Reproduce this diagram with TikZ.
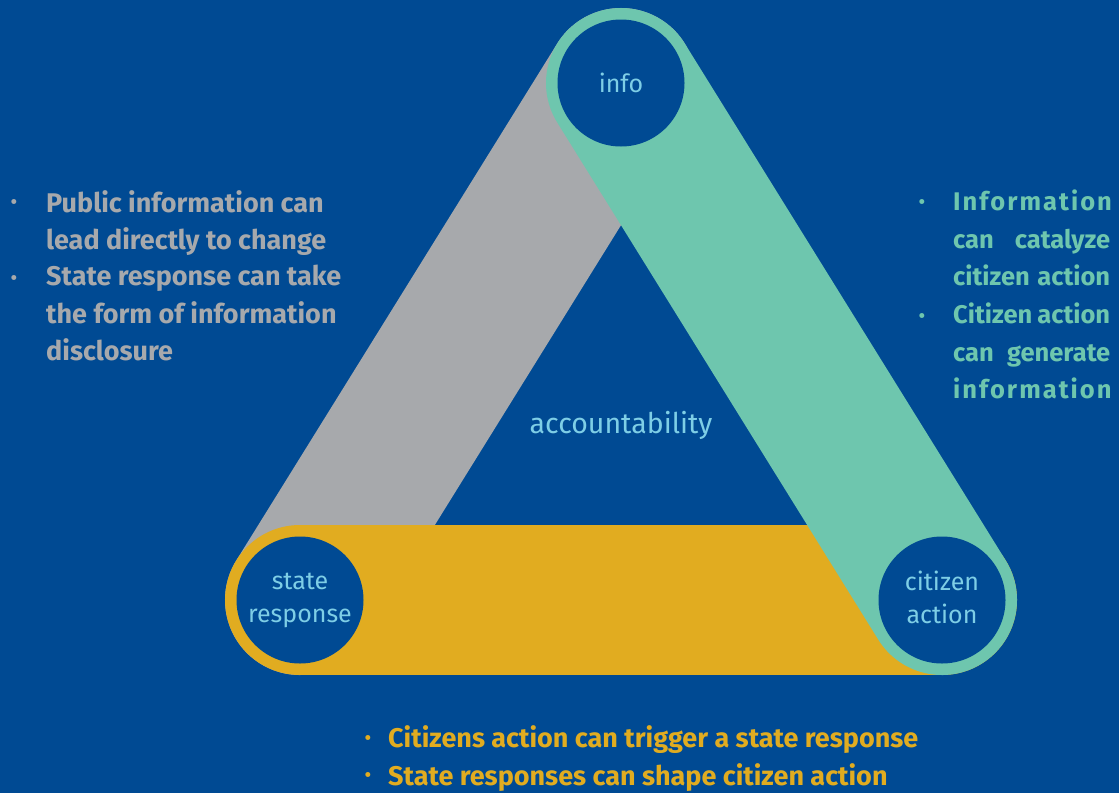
\documentclass[tikz,border=0pt]{standalone}
\usepackage{fontspec}
\setmainfont{Fira Sans}
\definecolor{bgblue}{RGB}{0,74,147}
\definecolor{grayband}{RGB}{167,169,172}
\definecolor{yellowband}{RGB}{225,172,32}
\definecolor{greenband}{RGB}{110,198,174}
\definecolor{lblue}{RGB}{126,206,230}
\pgfdeclarelayer{back}
\pgfdeclarelayer{bands}
\pgfsetlayers{back,bands,main}
\newcommand{\jline}[1]{\makebox[157pt][s]{#1}}
\newcommand{\sline}[1]{{\addfontfeature{LetterSpace=8}#1}}
\begin{document}
\begin{tikzpicture}[x=1pt,y=-1pt,
  band/.style={line width=150pt, line cap=round},
  hub/.style={circle, fill=bgblue, minimum size=127pt, inner sep=0pt, text=lblue, align=center,
    font=\fontsize{25}{33}\selectfont},
  bodytxt/.style={anchor=north west, inner sep=0pt, align=left, font=\fontsize{27}{37.5}\selectfont\bfseries},
  righttxt/.style={bodytxt, font=\fontsize{25.5}{37.5}\selectfont\bfseries},
  bul/.style={inner sep=0pt, font=\fontsize{22}{22}\selectfont}
]
\begin{pgfonlayer}{back}
\fill[bgblue] (0,0) rectangle (1119,793);
\end{pgfonlayer}
\useasboundingbox (0,0) rectangle (1119,793);

\node[hub] (info) at (621,83) {info};
\node[hub] (state) at (300,600) {state\\response};
\node[hub] (citizen) at (942,600) {citizen\\action\vphantom{p}};

\begin{pgfonlayer}{bands}
\draw[band, grayband] (info.center) -- (state.center);
\draw[band, yellowband] (state.center) -- (citizen.center);
\draw[band, greenband] (info.center) -- (citizen.center);
\end{pgfonlayer}

\node[text=lblue, font=\fontsize{28.5}{30}\selectfont] (acc) at (621,425) {accountability};

% left texts
\node[bodytxt, text=grayband] (l1) at (46,190) {Public information can\\lead directly to change};
\node[bodytxt, text=grayband] (l2) at (46,265) {State response can take\\the form of information\\disclosure};
\node[bul, text=grayband] (lb1) at (14,205) {•};
\node[bul, text=grayband] (lb2) at (14,280) {•};

% right texts
\node[righttxt, text=greenband] (r1) at (953,190) {\sline{Information}\\\jline{can catalyze}\\\jline{citizen action}};
\node[righttxt, text=greenband] (r2) at (953,303) {\jline{Citizen action}\\\jline{can generate}\\\sline{information}};
\node[bul, text=greenband] (rb1) at (922,205) {•};
\node[bul, text=greenband] (rb2) at (922,318) {•};

% bottom texts
\node[bodytxt, text=yellowband] (b1) at (388,725) {Citizens action can trigger a state response};
\node[bodytxt, text=yellowband] (b2) at (388,763) {State responses can shape citizen action};
\node[bul, text=yellowband] (bb1) at (368,740) {•};
\node[bul, text=yellowband] (bb2) at (368,777) {•};
\end{tikzpicture}
\end{document}
